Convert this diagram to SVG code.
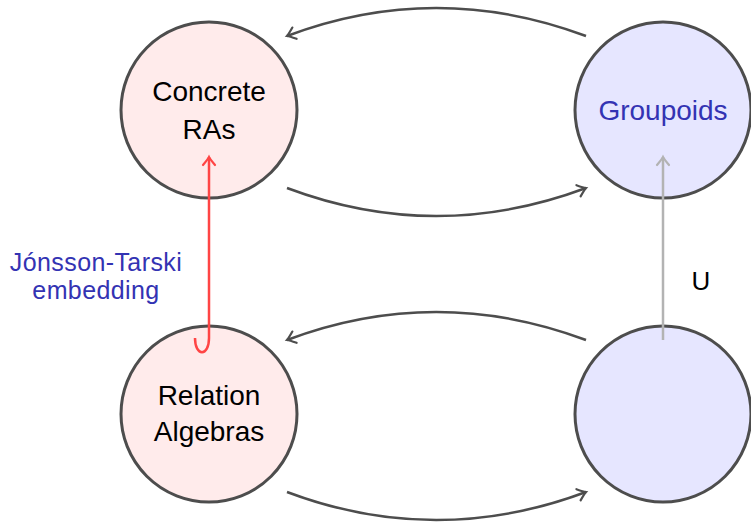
<svg xmlns="http://www.w3.org/2000/svg" width="751" height="522" viewBox="0 0 751 522">
<style>
.node{stroke:#4d4d4d;stroke-width:3}
.pink{fill:#ffebeb}
.blue{fill:#e6e6ff}
.t{font-family:"Liberation Sans",Arial,sans-serif;font-size:28px;text-anchor:middle;fill:#000}
.bl{fill:#3333b3}
.arr{fill:none;stroke:#4d4d4d;stroke-width:2.5}
</style>
<defs>
<marker id="ahr" viewBox="-10 -8 14 16" markerWidth="14" markerHeight="16" refX="0" refY="0" orient="auto" markerUnits="userSpaceOnUse">
<path d="M-8,-6 Q-2,-1 0,0 Q-2,1 -8,6" fill="none" stroke="#ff4545" stroke-width="2.2" stroke-linecap="round"/>
</marker>
<marker id="ahg" viewBox="-10 -8 14 16" markerWidth="14" markerHeight="16" refX="0" refY="0" orient="auto" markerUnits="userSpaceOnUse">
<path d="M-8,-6 Q-2,-1 0,0 Q-2,1 -8,6" fill="none" stroke="#b3b3b3" stroke-width="2.2" stroke-linecap="round"/>
</marker>
<marker id="ahd" viewBox="-10 -8 14 16" markerWidth="14" markerHeight="16" refX="0" refY="0" orient="auto" markerUnits="userSpaceOnUse">
<path d="M-8,-6 Q-2,-1 0,0 Q-2,1 -8,6" fill="none" stroke="#4d4d4d" stroke-width="2.2" stroke-linecap="round"/>
</marker>
</defs>
<g id="concrete">
<circle class="node pink" cx="209" cy="110" r="88"/>
<text class="t" x="209" y="101">Concrete</text>
<text class="t" x="209" y="139">RAs</text>
</g>
<g id="groupoids">
<circle class="node blue" cx="663" cy="110" r="88"/>
<text class="t bl" x="663" y="120">Groupoids</text>
</g>
<g id="relalg">
<circle class="node pink" cx="209" cy="414" r="88"/>
<text class="t" x="209" y="405">Relation</text>
<text class="t" x="209" y="441">Algebras</text>
</g>
<g id="blank">
<circle class="node blue" cx="663" cy="414" r="88"/>
</g>
<g id="connectors">
<path class="arr" d="M586,36 Q436,-20 287,36" marker-end="url(#ahd)"/>
<path class="arr" d="M287,188 Q436,244 586,188" marker-end="url(#ahd)"/>
<path class="arr" d="M586,340 Q436,284 287,340" marker-end="url(#ahd)"/>
<path class="arr" d="M287,492 Q436,548 586,492" marker-end="url(#ahd)"/>
<path d="M195,338 C195,357 209,357 209,338 L209,157" fill="none" stroke="#ff4545" stroke-width="2.5" marker-end="url(#ahr)"/>
<path d="M663,340 L663,157" fill="none" stroke="#b3b3b3" stroke-width="2.5" marker-end="url(#ahg)"/>
</g>
<g id="labels">
<text class="t bl" x="96" y="271" style="font-size:25px;letter-spacing:0.4px">Jónsson-Tarski</text>
<text class="t bl" x="96" y="299" style="font-size:25px;letter-spacing:0.4px">embedding</text>
<text class="t" x="701" y="290" style="font-size:26px">U</text>
</g>
</svg>
